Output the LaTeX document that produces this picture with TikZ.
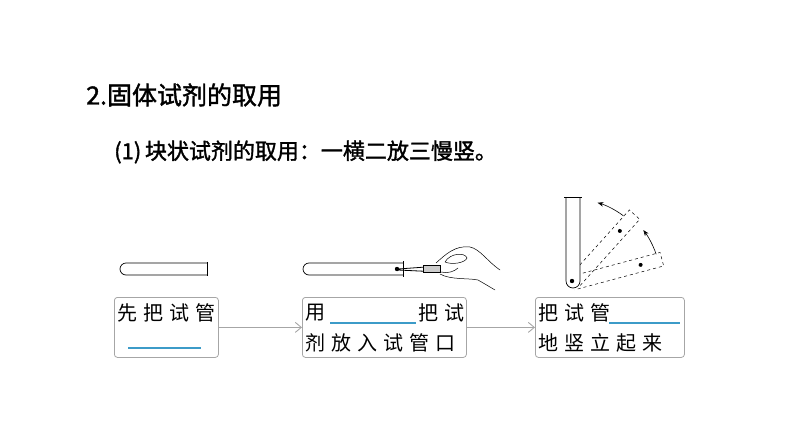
\documentclass[tikz,border=0pt]{standalone}
\usepackage{fontspec}
\usetikzlibrary{arrows.meta}
\setmainfont{Noto Sans CJK SC}
\newfontfamily\cjkb[FakeBold=1.5]{Noto Sans CJK SC}
\newfontfamily\cjks[LetterSpace=30]{Noto Sans CJK SC}
\definecolor{blk}{RGB}{60,155,200}
\begin{document}
\begin{tikzpicture}[x=1pt,y=-1pt,
  box/.style={draw=gray!70,rounded corners=3pt,line width=0.8pt,inner sep=0pt},
  flow/.style={draw=gray!70,line width=0.9pt,->,>={Straight Barb[length=6pt,width=10pt]}},
  blank/.style={draw=blk,line width=1.2pt},
  tube/.style={draw=black,line width=0.7pt,fill=white},
  txt/.style={font=\cjks\fontsize{20}{24}\selectfont,anchor=west,inner sep=0pt}]
\useasboundingbox (0,0) rectangle (794,447);
\node[anchor=west,inner sep=0pt,font=\cjkb\fontsize{25}{28}\selectfont] (t1) at (86,95) {2.固体试剂的取用};
\node[anchor=west,inner sep=0pt,font=\cjkb\fontsize{22}{26}\selectfont] (t2) at (114,152) {(1)\,块状试剂的取用：一横二放三慢竖。};
% boxes
\node[box,minimum width=104,minimum height=60,anchor=north west] (b1) at (114,297) {};
\node[box,minimum width=164,minimum height=60,anchor=north west] (b2) at (302,297) {};
\node[box,minimum width=149,minimum height=60,anchor=north west] (b3) at (535,297) {};
\draw[flow] (b1.east) -- (b2.west);
\draw[flow] (b2.east) -- (b3.west);
\node[txt] (a1) at (117,313) {先把试管};
\draw[blank] (128,348) -- (201,348);
\node[txt] (a2) at (305,313) {用};
\draw[blank] (330,323) -- (416,323);
\node[txt] (a3) at (418,313) {把试};
\node[txt] (a4) at (305,343) {剂放入试管口};
\node[txt] (a5) at (538,313) {把试管};
\draw[blank] (609,323) -- (680,323);
\node[txt] (a6) at (538,343) {地竖立起来};
% tube 1
\draw[tube] (207,263) -- (126,263) arc[start angle=-90,end angle=-270,radius=6] -- (207,275);
\draw[line width=0.7pt] (207,262) -- (207,276);
% tube 2
\draw[tube] (403,263) -- (309,263) arc[start angle=-90,end angle=-270,radius=6] -- (403,275);
\draw[line width=0.7pt] (403,261) -- (403,277);
% tweezers and hand
\draw[line width=0.8pt] (398,269) -- (440,266) (398,270) -- (440,272);
\fill (397,269) circle (2.2);
\draw[fill=gray!40,line width=0.5pt] (423,265) rectangle (440,272);
\draw[line width=0.5pt] (436,263) .. controls (445,255) and (455,245) .. (470,247)
  .. controls (480,249) and (488,262) .. (500,270);
\draw[line width=0.5pt] (440,274) .. controls (450,280) and (470,278) .. (478,280)
  .. controls (485,284) and (490,287) .. (495,290);
\draw[line width=0.5pt] (445,262) .. controls (450,253) and (465,252) .. (467,258)
  .. controls (465,263) and (452,265) .. (445,262);
\draw[line width=0.5pt] (441,272) .. controls (448,274) and (455,271) .. (458,268);
% tilted tubes
\begin{scope}[shift={(573,283)}]
 \foreach \ang in {15,48}{
  \begin{scope}[rotate=\ang]
   \draw[dashed,line width=0.5pt] (0,-7) -- (92,-7) -- (92,7) -- (0,7);
   \fill (70,0) circle (2);
  \end{scope}}
 \draw[->,>={Stealth[length=6pt]},line width=0.6pt] (-19:88) arc[start angle=-19,end angle=-37,radius=88];
 \draw[->,>={Stealth[length=6pt]},line width=0.6pt] (-53:84) arc[start angle=-53,end angle=-73,radius=84];
\end{scope}
% vertical tube
\draw[tube] (566,197) -- (566,281) arc[start angle=180,end angle=0,radius=7] -- (580,197);
\draw[line width=0.7pt] (564,197) -- (582,197);
\fill (572,281) circle (2.2);
\end{tikzpicture}
\end{document}
